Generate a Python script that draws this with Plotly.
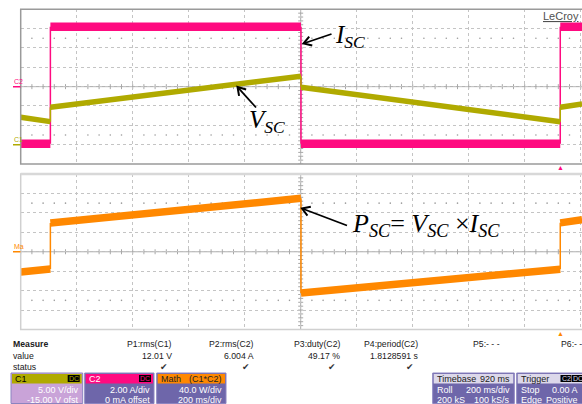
import math
import plotly.graph_objects as go

# ---------------- data ----------------
time_ms = [0, 106, 106, 1001, 1001, 1927, 1927, 2005]
v_sc = [7.1, 5.95, 9.67, 17.7, 14.85, 5.95, 9.67, 10.5]      # C1, volts
i_sc = [-5.9, -5.9, 6.2, 6.2, -5.9, -5.9, 6.2, 6.2]          # C2, amps
p_sc = [-41.5, -35.5, 59.0, 110.0, -85.0, -36.0, 59.5, 66.0]  # Math C1*C2, watts

meas_names = ["P1:rms(C1)", "P2:rms(C2)", "P3:duty(C2)", "P4:period(C2)", "P5:- - -"]
meas_values = ["12.01 V", "6.004 A", "49.17 %", "1.8128591 s", ""]
meas_status = ["✔", "✔", "✔", "✔", ""]

W, H = 582, 404
PINK = "#ff0a80"
OLIVE = "#b0aa00"
ORANGE = "#ff8800"
BODY = "#6e66aa"


def px(x):
    return x / W


def py(y):
    return 1 - y / H


X0 = 20.7
DIV = 56.0
TOP = (9.3, 164.0)
BOT = (174.0, 329.5)
x_end = 2000 * (W - X0) / (10 * DIV)


def split(t, y):
    tx, ty, nx, ny = [], [], [], []
    for k in range(len(t) - 1):
        if t[k + 1] != t[k]:
            tx += [t[k], t[k + 1], None]
            ty += [y[k], y[k + 1], None]
        else:
            nx += [t[k], t[k + 1], None]
            ny += [y[k], y[k + 1], None]
    return tx, ty, nx, ny


fig = go.Figure()

# graticule dot rows at +/-2.5 divisions (decoration)
minor_x = [k * 40 for k in range(51) if k % 5 != 0]
for xa, ya, q in (("x", "y", 5.0), ("x2", "y3", 100.0)):
    fig.add_trace(go.Scatter(x=minor_x * 2, y=[q] * len(minor_x) + [-q] * len(minor_x), mode="markers",
                             marker=dict(size=1.6, color="#9a9a9a"), xaxis=xa, yaxis=ya))

a, b, c, d = split(time_ms, v_sc)
fig.add_trace(go.Scatter(x=a, y=b, mode="lines", line=dict(color=OLIVE, width=5.5), xaxis="x", yaxis="y2"))
fig.add_trace(go.Scatter(x=c, y=d, mode="lines", line=dict(color=OLIVE, width=1.5), xaxis="x", yaxis="y2"))
a, b, c, d = split(time_ms, i_sc)
fig.add_trace(go.Scatter(x=a, y=b, mode="lines", line=dict(color=PINK, width=8.5), xaxis="x", yaxis="y"))
fig.add_trace(go.Scatter(x=c, y=d, mode="lines", line=dict(color=PINK, width=1.5), xaxis="x", yaxis="y"))
a, b, c, d = split(time_ms, p_sc)
fig.add_trace(go.Scatter(x=a, y=b, mode="lines", line=dict(color=ORANGE, width=7.5), xaxis="x2", yaxis="y3"))
fig.add_trace(go.Scatter(x=c, y=d, mode="lines", line=dict(color=ORANGE, width=1.5), xaxis="x2", yaxis="y3"))

grid = dict(showgrid=True, gridcolor="#c4c4c4", griddash="dot", gridwidth=1,
            zeroline=False, showticklabels=False, ticks="", showline=False)

fig.update_layout(
    width=W, height=H, margin=dict(l=0, r=0, t=0, b=0), hovermode=False,
    paper_bgcolor="white", plot_bgcolor="white", showlegend=False,
    xaxis=dict(domain=[px(X0), 1], range=[0, x_end], dtick=200, anchor="y", **grid),
    yaxis=dict(domain=[py(TOP[1]), py(TOP[0])], range=[-8, 8], dtick=2, anchor="x", **grid),
    yaxis2=dict(range=[-5, 35], overlaying="y", anchor="x", showgrid=False, zeroline=False,
                showticklabels=False, showline=False),
    xaxis2=dict(domain=[px(X0), 1], range=[0, x_end], dtick=200, anchor="y3", **grid),
    yaxis3=dict(domain=[py(BOT[1]), py(BOT[0])], range=[-160, 160], dtick=40, anchor="x2", **grid),
)

shapes = []
for xr, yr, half in (("x", "y", 8), ("x2", "y3", 160)):
    shapes.append(dict(type="line", xref=xr, yref=yr, x0=0, x1=x_end, y0=0, y1=0,
                       line=dict(color="#a8a8a8", width=1), layer="below"))
    shapes.append(dict(type="line", xref=xr, yref=yr, x0=1000, x1=1000, y0=-half, y1=half,
                       line=dict(color="#a8a8a8", width=1), layer="below"))
    for k in range(0, 51):
        shapes.append(dict(type="line", xref=xr, yref=yr, x0=k * 40, x1=k * 40,
                           ysizemode="pixel", yanchor=0, y0=-2.5, y1=2.5,
                           line=dict(color="#a8a8a8", width=1), layer="below"))
    for k in range(-20, 21):
        shapes.append(dict(type="line", xref=xr, yref=yr, y0=k * half / 20, y1=k * half / 20,
                           xsizemode="pixel", xanchor=1000, x0=-2.5, x1=2.5,
                           line=dict(color="#a8a8a8", width=1), layer="below"))

shapes.append(dict(type="path", xref="paper", yref="paper",
                   path=f"M 1.01 {py(TOP[0])} L {px(X0)} {py(TOP[0])} L {px(X0)} {py(TOP[1])} L 1.01 {py(TOP[1])}",
                   line=dict(color="#9a9a9a", width=1.5)))
shapes.append(dict(type="path", xref="paper", yref="paper",
                   path=f"M 1.01 {py(BOT[0])} L {px(X0)} {py(BOT[0])} L {px(X0)} {py(BOT[1])} L 1.01 {py(BOT[1])}",
                   line=dict(color="#d0d0d0", width=1.5)))
shapes.append(dict(type="line", xref="paper", yref="paper", x0=px(X0), x1=1, y0=py(BOT[0]), y1=py(BOT[0]),
                   line=dict(color="#d8d8d8", width=2.5)))

for yr, col in (("y", PINK), ("y2", OLIVE), ("y3", ORANGE)):
    shapes.append(dict(type="line", xref="paper", yref=yr, x0=px(13), x1=px(20.5), y0=0, y1=0,
                       line=dict(color=col, width=1.5)))


def arrow(tip, tail):
    dx, dy = tail[0] - tip[0], tail[1] - tip[1]
    L = math.hypot(dx, dy)
    ux, uy = dx / L, dy / L
    out = [dict(type="line", xref="paper", yref="paper", x0=px(tail[0]), y0=py(tail[1]),
                x1=px(tip[0] + ux * 1.5), y1=py(tip[1] + uy * 1.5), line=dict(color="black", width=1.8))]
    hl, ang = 9.0, math.radians(32)
    pts = []
    for s in (1, -1):
        ca, sa = math.cos(s * ang), math.sin(s * ang)
        rx, ry = ux * ca - uy * sa, ux * sa + uy * ca
        pts.append((tip[0] + rx * hl, tip[1] + ry * hl))
    path = (f"M {px(pts[0][0])} {py(pts[0][1])} L {px(tip[0])} {py(tip[1])} "
            f"L {px(pts[1][0])} {py(pts[1][1])}")
    out.append(dict(type="path", xref="paper", yref="paper", path=path, line=dict(color="black", width=2)))
    return out


shapes += arrow((303.5, 43.5), (331.5, 34))
shapes += arrow((237.5, 87), (256, 107.5))
shapes += arrow((302, 208.5), (347, 225.5))

ann = []
for yr, col, lab in (("y", PINK, "C2"), ("y2", OLIVE, "C1"), ("y3", ORANGE, "Ma")):
    ann.append(dict(xref="paper", yref=yr, x=px(11.5), y=0, yshift=5, text=lab, showarrow=False,
                    xanchor="left", yanchor="middle", font=dict(size=7, color=col, family="Liberation Sans")))

ann.append(dict(xref="x", yref="paper", x=time_ms[5], y=py(167.5), text="▲", showarrow=False,
                font=dict(size=7, color=PINK), xanchor="center", yanchor="middle"))
ann.append(dict(xref="x", yref="paper", x=time_ms[5], y=py(333), text="▲", showarrow=False,
                font=dict(size=7, color=ORANGE), xanchor="center", yanchor="middle"))

ann.append(dict(xref="paper", yref="paper", x=px(581), y=py(16), text="<u>LeCroy</u>", showarrow=False,
                xanchor="right", yanchor="middle", font=dict(size=11, color="#505050", family="Liberation Sans")))

SER = "Liberation Serif"
FS = 25
ann.append(dict(xref="paper", yref="paper", x=px(333), y=py(37), text="<i>I</i><sub><i>SC</i></sub>",
                showarrow=False, xanchor="left", yanchor="middle", font=dict(size=FS, family=SER, color="black")))
ann.append(dict(xref="paper", yref="paper", x=px(247), y=py(121), text="<i>V</i><sub><i>SC</i></sub>",
                showarrow=False, xanchor="left", yanchor="middle", font=dict(size=FS, family=SER, color="black")))
ann.append(dict(xref="paper", yref="paper", x=px(350), y=py(225),
                text="<i>P</i><sub><i>SC</i></sub>= <i>V</i><sub><i>SC</i></sub> ×<i>I</i><sub><i>SC</i></sub>",
                showarrow=False, xanchor="left", yanchor="middle", font=dict(size=26, family=SER, color="black")))

SANS = "Liberation Sans"
TXT = "#202020"
FT = 8.7
for yy, t in ((344, "<b>Measure</b>"), (355.5, "value"), (367, "status")):
    ann.append(dict(xref="paper", yref="paper", x=px(11), y=py(yy), text=t, showarrow=False,
                    xanchor="left", yanchor="middle", font=dict(size=FT, family=SANS, color=TXT)))
col_right = [173.5, 256, 342, 420, 502]
for xr, n, v, s in zip(col_right, meas_names, meas_values, meas_status):
    ann.append(dict(xref="paper", yref="paper", x=px(xr), y=py(344), text=n, showarrow=False,
                    xanchor="right", yanchor="middle", font=dict(size=FT, family=SANS, color=TXT)))
    if v:
        ann.append(dict(xref="paper", yref="paper", x=px(xr), y=py(355.5), text=v, showarrow=False,
                        xanchor="right", yanchor="middle", font=dict(size=FT, family=SANS, color=TXT)))
    if s:
        ann.append(dict(xref="paper", yref="paper", x=px(xr - 4), y=py(367), text=s, showarrow=False,
                        xanchor="right", yanchor="middle", font=dict(size=9, family="DejaVu Sans", color="#333")))
ann.append(dict(xref="paper", yref="paper", x=px(559), y=py(344), text="P6:- -", showarrow=False,
                xanchor="left", yanchor="middle", font=dict(size=FT, family=SANS, color=TXT)))

boxes = [
    (11, 82.7, OLIVE, "#c9a3d8", "C1", "", "black", ("", "5.00 V/div"), ("", "-15.00 V ofst"), "DC"),
    (84.7, 154, PINK, BODY, "C2", "", "white", ("", "2.00 A/div"), ("", "0 mA offset"), "DC"),
    (156.7, 226, ORANGE, BODY, "Math", "(C1*C2)", "#222", ("", "40.0 W/div"), ("", "200 ms/div"), ""),
    (432.7, 514.3, "#dcd8ea", BODY, "Timebase", "920 ms", "#222", ("Roll", "200 ms/div"), ("200 kS", "100 kS/s"), ""),
    (516.7, 590, "#dcd8ea", BODY, "Trigger", "", "#222", ("Stop", "0.00 A"), ("Edge", "Positive"), "C2DC"),
]
BT, BH, BB = 373, 383.5, 403.5
for (x0, x1, hc, bc, hl, hr, htc, l1, l2, badge) in boxes:
    shapes.append(dict(type="rect", xref="paper", yref="paper", x0=px(x0), x1=px(x1), y0=py(BB), y1=py(BT),
                       fillcolor=bc, line=dict(color="#8c84c0", width=1)))
    shapes.append(dict(type="rect", xref="paper", yref="paper", x0=px(x0 + 1), x1=px(x1 - 1), y0=py(BH), y1=py(BT + 1),
                       fillcolor=hc, line=dict(width=0)))
    ann.append(dict(xref="paper", yref="paper", x=px(x0 + 2), y=py(378.5), text=hl, showarrow=False,
                    xanchor="left", yanchor="middle", font=dict(size=9, family=SANS, color=htc)))
    if hr:
        ann.append(dict(xref="paper", yref="paper", x=px(min(x1, 582) - 2), y=py(378.5), text=hr, showarrow=False,
                        xanchor="right", yanchor="middle", font=dict(size=9, family=SANS, color=htc)))
    if badge == "DC":
        shapes.append(dict(type="rect", xref="paper", yref="paper", x0=px(x1 - 15), x1=px(x1 - 3),
                           y0=py(382), y1=py(375), fillcolor="black", line=dict(width=0)))
        ann.append(dict(xref="paper", yref="paper", x=px(x1 - 9), y=py(378.5), text="DC", showarrow=False,
                        xanchor="center", yanchor="middle", font=dict(size=7, family=SANS, color=hc)))
    elif badge == "C2DC":
        for bx, t in ((566, "C2"), (577.5, "DC")):
            shapes.append(dict(type="rect", xref="paper", yref="paper", x0=px(bx - 5.5), x1=px(bx + 5.5),
                               y0=py(382), y1=py(375), fillcolor="black", line=dict(width=0)))
            ann.append(dict(xref="paper", yref="paper", x=px(bx), y=py(378.5), text=t, showarrow=False,
                            xanchor="center", yanchor="middle", font=dict(size=7, family=SANS, color="#dcd8ea")))
    for (ly, (lt, rt)) in ((389.5, l1), (399.5, l2)):
        if lt:
            ann.append(dict(xref="paper", yref="paper", x=px(x0 + 2), y=py(ly), text=lt, showarrow=False,
                            xanchor="left", yanchor="middle", font=dict(size=9, family=SANS, color="white")))
        ann.append(dict(xref="paper", yref="paper", x=px(min(x1, 582) - 2), y=py(ly), text=rt, showarrow=False,
                        xanchor="right", yanchor="middle", font=dict(size=9, family=SANS, color="white")))

fig.update_layout(shapes=shapes, annotations=ann)
fig.write_html("out.html", config={"displayModeBar": False, "staticPlot": True},
               post_script="document.body.style.margin='0';document.body.style.overflow='hidden';")
